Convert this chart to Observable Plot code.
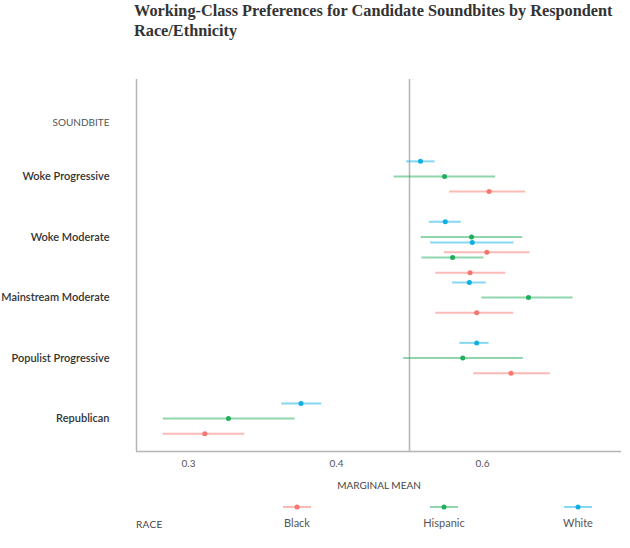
<!DOCTYPE html>
<html>
<head>
<meta charset="utf-8">
<script src="https://cdn.jsdelivr.net/npm/d3@7"></script>
<script src="https://cdn.jsdelivr.net/npm/@observablehq/plot@0.6"></script>
<style>
  body { margin: 0; background: #fff; }
  #wrap { position: relative; width: 630px; height: 548px; font-family: Lato, "Noto Sans", sans-serif; }
  #title { position: absolute; left: 134px; top: 1px; width: 495px; font: bold 16.3px/20px "Liberation Serif", serif; color: #333; }
  #chart { position: absolute; left: 0; top: 55px; }
  #legend { position: absolute; left: 0; top: 495px; width: 630px; height: 50px; }
  .lg-title { position: absolute; left: 136px; top: 23px; font-size: 10px; color: #444; letter-spacing: 0.3px; }
  .lg-item { position: absolute; top: 8px; width: 80px; text-align: center; font-size: 11px; color: #555; line-height: 13px; }
  .lg-item svg { display: block; margin: 0 auto 5px auto; }
</style>
</head>
<body>
<div id="wrap">
  <div id="title">Working-Class Preferences for Candidate Soundbites by Respondent Race/Ethnicity</div>
  <div id="chart"></div>
  <div id="legend"></div>
</div>
<script>
// ---- data ----
const soundbites = ["Woke Progressive", "Woke Moderate", "Mainstream Moderate", "Populist Progressive", "Republican"];
const races = ["Black", "Hispanic", "White"];
const raceColors = ["#f8766d", "#1fae5b", "#0eafe3"];
const xTicks = [0.3, 0.4, 0.6];
const refValue = 0.5;

const rowSoundbite = [
  "Woke Progressive", "Woke Progressive", "Woke Progressive",
  "Woke Moderate", "Woke Moderate", "Woke Moderate",
  "Woke Moderate", "Woke Moderate", "Woke Moderate",
  "Mainstream Moderate", "Mainstream Moderate", "Mainstream Moderate",
  "Populist Progressive", "Populist Progressive", "Populist Progressive",
  "Republican", "Republican", "Republican"
];
const rowRace = [
  "White", "Hispanic", "Black",
  "White", "Hispanic", "Black",
  "White", "Hispanic", "Black",
  "White", "Hispanic", "Black",
  "White", "Hispanic", "Black",
  "White", "Hispanic", "Black"
];
const rowSet = [1,1,1, 1,1,1, 2,2,2, 1,1,1, 1,1,1, 1,1,1];
const estimate = [
  0.515, 0.548, 0.609,
  0.549, 0.585, 0.606,
  0.586, 0.559, 0.583,
  0.582, 0.663, 0.592,
  0.592, 0.573, 0.639,
  0.376, 0.327, 0.311
];
const lower = [
  0.496, 0.479, 0.555,
  0.527, 0.516, 0.548,
  0.529, 0.517, 0.536,
  0.559, 0.599, 0.536,
  0.569, 0.492, 0.588,
  0.363, 0.283, 0.283
];
const upper = [
  0.535, 0.618, 0.659,
  0.571, 0.655, 0.665,
  0.643, 0.602, 0.632,
  0.605, 0.724, 0.643,
  0.609, 0.656, 0.693,
  0.390, 0.372, 0.338
];

// ---- piecewise x axis (ticks 0.3, 0.4, 0.6 as drawn in the original) ----
const plotW = 630, mL = 136, mR = 9;
const warp = d3.scaleLinear().domain(xTicks).range([188, 336, 482]);

// ---- build table ----
const raceOffset = {White: -0.25, Hispanic: 0, Black: 0.25};
const setShift = 0.34;
const rows = estimate.map((est, i) => ({
  soundbite: rowSoundbite[i],
  race: rowRace[i],
  set: rowSet[i],
  est: warp(est), lo: warp(lower[i]), hi: warp(upper[i]),
  pos: soundbites.indexOf(rowSoundbite[i]) + raceOffset[rowRace[i]] + (rowSet[i] - 1) * setShift
}));

const yDomain = [-1.603, 4.545];

const chart = Plot.plot({
  width: plotW,
  height: 440,
  marginLeft: mL,
  marginRight: mR,
  marginTop: 24,
  marginBottom: 44,
  style: {fontFamily: "Lato, 'Noto Sans', sans-serif", background: "#fff"},
  x: {domain: [mL, plotW - mR]},
  y: {domain: yDomain, range: [24, 396]},
  color: {domain: races, range: raceColors},
  marks: [
    Plot.ruleX([mL], {stroke: "#b5b5b5", strokeWidth: 1.5}),
    Plot.ruleY([yDomain[1]], {stroke: "#b5b5b5", strokeWidth: 1.5}),
    Plot.ruleX([warp(refValue)], {stroke: "#b5b5b5", strokeWidth: 1.5}),
    Plot.axisX({ticks: xTicks.map(warp), tickFormat: p => d3.format(".1f")(warp.invert(p)), tickSize: 0, tickPadding: 8, fontSize: 10, fill: "#555", label: null}),
    Plot.axisY({ticks: soundbites.map((d, i) => i), tickFormat: i => soundbites[i], tickSize: 0, tickPadding: 27, fontSize: 11, fontWeight: 600, fill: "#333", label: null}),
    Plot.text(["SOUNDBITE"], {frameAnchor: "top-left", dx: -27, dy: 39, textAnchor: "end", fontSize: 10, fill: "#555", letterSpacing: 0.3}),
    Plot.text(["MARGINAL MEAN"], {frameAnchor: "bottom", dy: 37, fontSize: 10, fill: "#444", letterSpacing: 0.5}),
    Plot.ruleY(rows, {y: "pos", x1: "lo", x2: "hi", stroke: "race", strokeWidth: 2, strokeOpacity: 0.5}),
    Plot.dot(rows, {x: "est", y: "pos", fill: "race", r: 2.5})
  ]
});
document.getElementById("chart").appendChild(chart);

// ---- legend ----
const legend = d3.select("#legend");
legend.append("div").attr("class", "lg-title").text("RACE");
const legendCenters = [297, 444, 578];
races.forEach((r, i) => {
  const item = legend.append("div").attr("class", "lg-item").style("left", (legendCenters[i] - 40) + "px");
  const svg = item.append("svg").attr("width", 30).attr("height", 8);
  svg.append("line").attr("x1", 1).attr("x2", 29).attr("y1", 4).attr("y2", 4)
    .attr("stroke", raceColors[i]).attr("stroke-width", 2).attr("stroke-opacity", 0.5);
  svg.append("circle").attr("cx", 15).attr("cy", 4).attr("r", 2.5).attr("fill", raceColors[i]);
  item.append("div").text(r);
});
</script>
</body>
</html>
